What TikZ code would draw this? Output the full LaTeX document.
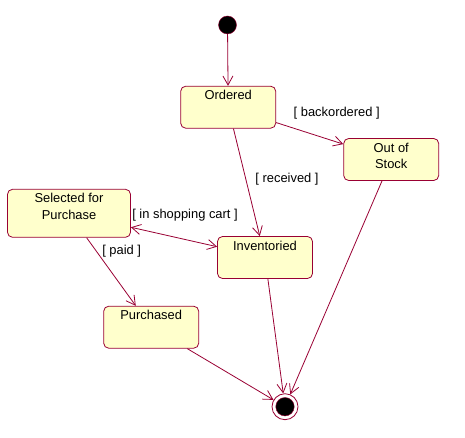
\documentclass[tikz,border=0pt]{standalone}
\usepackage{fontspec}
\setmainfont{Liberation Sans}
\usetikzlibrary{arrows.meta,positioning}
\definecolor{umlred}{RGB}{153,0,51}
\definecolor{umlfill}{RGB}{255,255,204}

\begin{document}
\begin{tikzpicture}[x=1pt,y=-1pt,font=\fontsize{12.9}{16.5}\selectfont,
    statebox/.style={draw=umlred,fill=umlfill,line width=0.8pt,
      rounded corners=5pt,minimum width=95pt,minimum height=42pt,inner sep=0pt},
    stname/.style={anchor=north,inner sep=0pt,yshift=-4.5pt,align=center},
    guard/.style={inner sep=1pt},
    every edge/.style={draw=umlred,line width=0.8pt},
    >={Straight Barb[length=9pt,width=10pt]}]
    \useasboundingbox (0,0) rectangle (465,438);

    \node [circle,draw=umlred,fill=black,minimum size=18pt,inner sep=0pt]
    (init) at (227.5,25) {}; \node [statebox,label={[stname]north:Ordered}]
    (ordered) at (228.2,107.2) {}; \node [statebox,label={[stname]north:Out
    of\\Stock}] (stock) at (391.2,159.5) {}; \node
    [statebox,minimum width=123pt,minimum height=48pt,
    label={[stname]north:Selected for\\Purchase}] (select) at (69,213.3) {};
    \node [statebox,label={[stname]north:Inventoried}] (invent) at
    (265,257.5) {}; \node [statebox,label={[stname]north:Purchased}]
    (bought) at (151.2,327.2) {}; \node [circle,draw=umlred,line
    width=0.8pt,minimum size=26pt,inner sep=0pt] (final) at (285,406.7) {};
    \node [circle,draw=umlred,fill=black,minimum size=18.5pt,inner sep=0pt]
    (finaldot) at (final) {};

    \node [guard] (gback) at (336.7,113) {[ backordered ]}; \node [guard]
    (grecv) at (287,179.5) {[ received ]}; \node [guard] (gcart) at
    (185,215.5) {[ in shopping cart ]}; \node [guard] (gpaid) at
    (121.7,251) {[ paid ]};

    \path [->] (init) edge (ordered) (ordered) edge (stock) edge (invent)
    (select) edge [<->] (invent) edge (bought) (bought) edge (final)
    (invent) edge (final) (stock) edge (final);
  \end{tikzpicture}
\end{document}
